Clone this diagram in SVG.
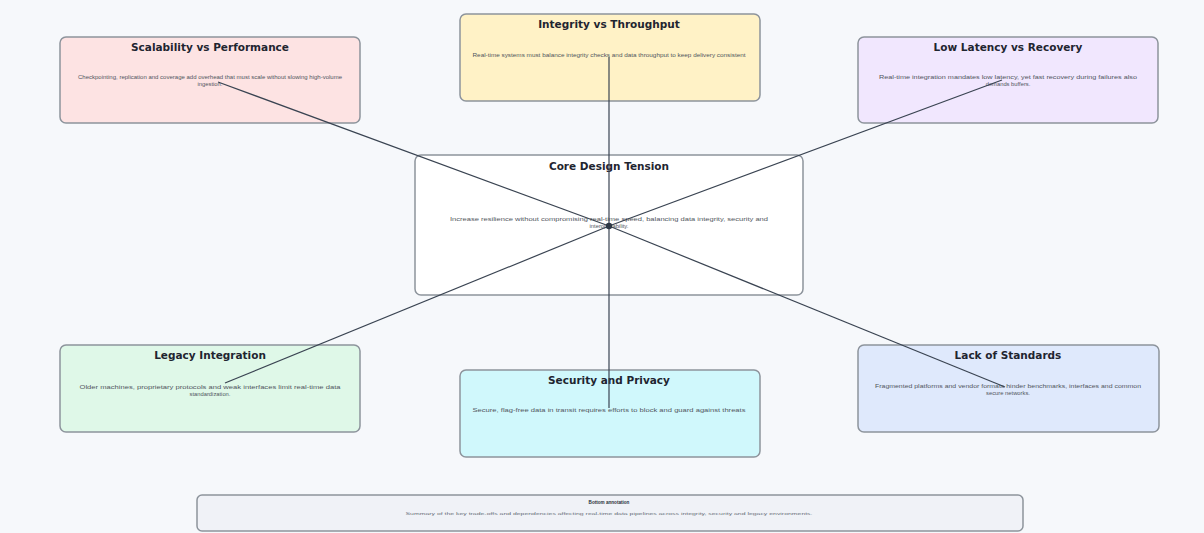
<svg xmlns="http://www.w3.org/2000/svg" width="1204" height="533" viewBox="0 0 1204 533">
<style>
.box{stroke:#8d949c;stroke-width:1.5}
.t{font-family:"DejaVu Sans",Verdana,sans-serif;font-weight:bold;font-size:10.5px;fill:#1f2530;text-anchor:middle}
.b{font-family:"Liberation Sans",Arial,sans-serif;font-size:5.8px;fill:#50555d;text-anchor:middle}
.c{stroke:#3a4452;stroke-width:1.2;fill:none}
</style>
<rect width="1204" height="533" fill="#f6f8fb"/>
<g id="scalability">
<rect class="box" x="60" y="37" width="300" height="86" rx="6" fill="#fde3e3"/>
<text class="t" x="210" y="51">Scalability vs Performance</text>
<text class="b" x="210" y="79" textLength="264" lengthAdjust="spacingAndGlyphs">Checkpointing, replication and coverage add overhead that must scale without slowing high-volume</text>
<text class="b" x="210" y="86">ingestion.</text>
</g>
<g id="integrity">
<rect class="box" x="460" y="14" width="300" height="87" rx="6" fill="#fff2c6"/>
<text class="t" x="609" y="28">Integrity vs Throughput</text>
<text class="b" x="609" y="57" textLength="273" lengthAdjust="spacingAndGlyphs">Real-time systems must balance integrity checks and data throughput to keep delivery consistent</text>
</g>
<g id="latency">
<rect class="box" x="858" y="37" width="300" height="86" rx="6" fill="#f1e7fe"/>
<text class="t" x="1008" y="51">Low Latency vs Recovery</text>
<text class="b" x="1008" y="79" textLength="258" lengthAdjust="spacingAndGlyphs">Real-time integration mandates low latency, yet fast recovery during failures also</text>
<text class="b" x="1008" y="86">demands buffers.</text>
</g>
<g id="core">
<rect class="box" x="415" y="155" width="388" height="140" rx="6" fill="#ffffff"/>
<text class="t" x="609" y="170">Core Design Tension</text>
<text class="b" x="609" y="221" textLength="318" lengthAdjust="spacingAndGlyphs">Increase resilience without compromising real-time speed, balancing data integrity, security and</text>
<text class="b" x="609" y="228">interoperability.</text>
</g>
<g id="legacy">
<rect class="box" x="60" y="345" width="300" height="87" rx="6" fill="#dff8e8"/>
<text class="t" x="210" y="359">Legacy Integration</text>
<text class="b" x="210" y="389" textLength="261" lengthAdjust="spacingAndGlyphs">Older machines, proprietary protocols and weak interfaces limit real-time data</text>
<text class="b" x="210" y="396">standardization.</text>
</g>
<g id="security">
<rect class="box" x="460" y="370" width="300" height="87" rx="6" fill="#d0f8fc"/>
<text class="t" x="609" y="384">Security and Privacy</text>
<text class="b" x="609" y="412" textLength="273" lengthAdjust="spacingAndGlyphs">Secure, flag-free data in transit requires efforts to block and guard against threats</text>
</g>
<g id="standards">
<rect class="box" x="858" y="345" width="301" height="87" rx="6" fill="#dfe9fc"/>
<text class="t" x="1008" y="359">Lack of Standards</text>
<text class="b" x="1008" y="388" textLength="266" lengthAdjust="spacingAndGlyphs">Fragmented platforms and vendor formats hinder benchmarks, interfaces and common</text>
<text class="b" x="1008" y="395">secure networks.</text>
</g>
<g id="annotation">
<rect class="box" x="197" y="495" width="826" height="36" rx="5" fill="#f0f2f7"/>
<text x="609" y="504" style="font-family:'Liberation Sans',Arial,sans-serif;font-weight:bold;font-size:4.6px;fill:#2a2f38;text-anchor:middle">Bottom annotation</text>
<text x="609" y="515" textLength="407" lengthAdjust="spacingAndGlyphs" style="font-family:'Liberation Sans',Arial,sans-serif;font-size:4.2px;fill:#6a707a;text-anchor:middle">Summary of the key trade-offs and dependencies affecting real-time data pipelines across integrity, security and legacy environments.</text>
</g>
<g id="connectors">
<line class="c" x1="218" y1="82" x2="609" y2="226"/>
<line class="c" x1="609" y1="57" x2="609" y2="226"/>
<line class="c" x1="1002" y1="80" x2="609" y2="226"/>
<line class="c" x1="225" y1="383" x2="609" y2="226"/>
<line class="c" x1="609" y1="408" x2="609" y2="226"/>
<line class="c" x1="1005" y1="387" x2="609" y2="226"/>
<circle cx="609" cy="226" r="3.2" fill="#2e3846"/>
</g>
</svg>
